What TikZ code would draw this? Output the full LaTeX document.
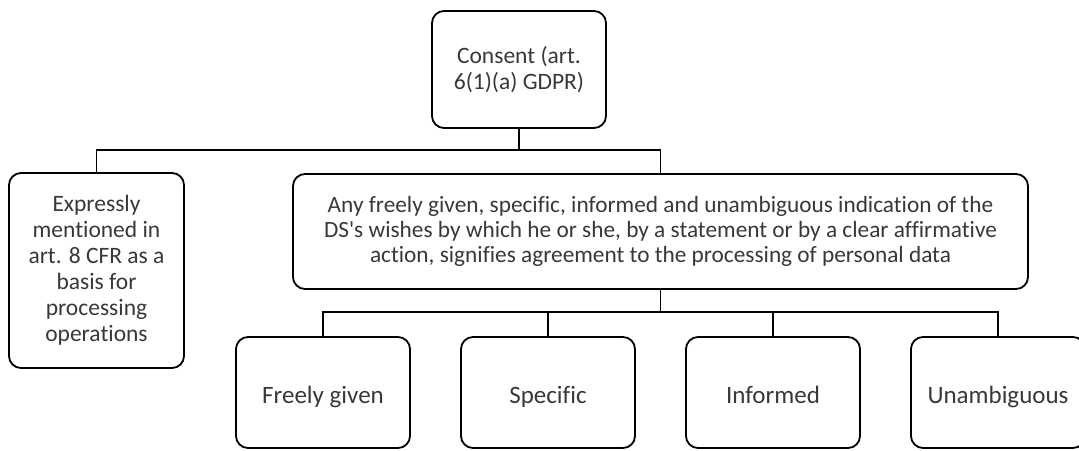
\documentclass[tikz,border=0pt]{standalone}
\usepackage{fontspec}
\setmainfont{Carlito}[Ligatures={NoCommon}]
\definecolor{txt}{HTML}{383838}
\begin{document}
\begin{tikzpicture}[x=1pt,y=-1pt,
  box/.style={draw=black, line width=1.8pt, rounded corners=12pt, rectangle,
    inner sep=0pt, text=txt, align=center, minimum width=174pt},
  leaf/.style={box, minimum height=111pt, font=\fontsize{25}{27}\selectfont,
    text height=21pt, text depth=0pt},
  link/.style={draw=black, line width=1.8pt}]
\useasboundingbox (0,0) rectangle (1079,450);
\clip (0,0) rectangle (1079,450);

% root
\node[box, minimum height=117pt, font=\fontsize{23.5}{26.5}\selectfont] (root) at (519,69.5)
  {Consent (art.\\6(1)(a) GDPR)};

% second level
\node[box, minimum width=175pt, minimum height=195pt, font=\fontsize{23.5}{26}\selectfont] (left) at (96.5,270.5)
  {Expressly\\mentioned in\\art. 8 CFR as a\\basis for\\processing\\operations};
\node[box, minimum width=735pt, minimum height=115pt, font=\fontsize{23.3}{25}\selectfont] (wide) at (660.5,231.5)
  {Any freely given, specific, informed and unambiguous indication of the\\
   DS\textquotesingle s wishes by which he or she, by a statement or by a clear affirmative\\
   action, signifies agreement to the processing of personal data};

% third level
\node[leaf] (c1) at (323,392.5) {Freely given};
\node[leaf] (c2) at (548,392.5) {Specific};
\node[leaf] (c3) at (773,392.5) {Informed};
\node[leaf] (c4) at (998,392.5) {Unambiguous};

% connectors
\coordinate (bus1) at (519,150);
\coordinate (bus2) at (660.5,312);
\draw[link] (root.south) -- (bus1);
\draw[link] (left.north) |- (bus1) -| (wide.north);
\draw[link] (wide.south) -- (bus2);
\draw[link] (c1.north) |- (bus2) -| (c4.north);
\draw[link] (c2.north) |- (bus2);
\draw[link] (c3.north) |- (bus2);
\end{tikzpicture}
\end{document}
